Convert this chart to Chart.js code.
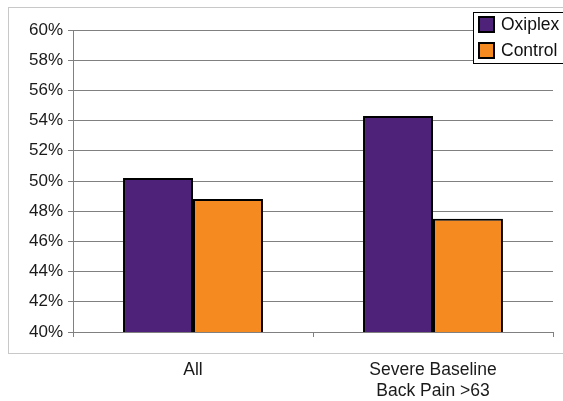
<!DOCTYPE html>
<html>
<head>
<meta charset="utf-8">
<script src="https://cdn.jsdelivr.net/npm/chart.js@4/dist/chart.umd.min.js"></script>
<style>
  html, body { margin: 0; padding: 0; background: #fff; }
  #wrap { width: 563px; height: 401px; position: relative; }
</style>
</head>
<body>
<div id="wrap"><canvas id="grafico"></canvas></div>
<script>
// datos
const categorias = ["All", ["Severe Baseline", "Back Pain >63"]];
const oxiplex = [50.2, 54.3];
const control = [48.8, 47.5];
const nombres = ["Oxiplex", "Control"];
const colores = ["#4f2279", "#f58a20"];

const fuente = "'Liberation Sans', Arial, sans-serif";

// marco gris y leyenda con caja negra, como en el original
const marcoYLeyenda = {
    id: "marcoYLeyenda",
    beforeDraw(chart) {
        const ctx = chart.ctx;
        ctx.save();
        ctx.strokeStyle = "#c8c8c8";
        ctx.lineWidth = 1;
        ctx.strokeRect(8.5, 7.5, 600, 346);
        ctx.restore();
    },
    afterDraw(chart) {
        const ctx = chart.ctx;
        ctx.save();
        ctx.fillStyle = "#fff";
        ctx.fillRect(473, 12, 100, 51);
        ctx.strokeStyle = "#000";
        ctx.lineWidth = 1;
        ctx.strokeRect(473.5, 12.5, 100, 51);
        ctx.font = "17.5px " + fuente;
        ctx.textBaseline = "middle";
        chart.data.datasets.forEach((ds, i) => {
            const y = 17 + i * 26;
            ctx.fillStyle = ds.backgroundColor;
            ctx.fillRect(479, y, 15, 15);
            ctx.strokeStyle = "#000";
            ctx.lineWidth = 2;
            ctx.strokeRect(479, y, 15, 15);
            ctx.fillStyle = "#111";
            ctx.fillText(ds.label, 501, y + 8);
        });
        ctx.restore();
    }
};

new Chart(document.getElementById("grafico"), {
    type: "bar",
    data: {
        labels: categorias,
        datasets: [
            { label: nombres[0], data: oxiplex, backgroundColor: colores[0] },
            { label: nombres[1], data: control, backgroundColor: colores[1] }
        ]
    },
    options: {
        responsive: true,
        maintainAspectRatio: false,
        animation: false,
        layout: { padding: { left: 0, right: 10, top: 30, bottom: 0 } },
        datasets: {
            bar: {
                categoryPercentage: 0.583,
                barPercentage: 1.0,
                borderColor: "#000",
                borderWidth: 2,
                borderSkipped: false
            }
        },
        plugins: {
            legend: { display: false },
            tooltip: { enabled: false }
        },
        scales: {
            x: {
                afterFit(scale) { scale.height = 69; },
                grid: {
                    offset: true,
                    drawOnChartArea: false,
                    color: "#808080",
                    tickLength: 5
                },
                border: { color: "#808080" },
                ticks: {
                    color: "#1a1a1a",
                    padding: 23,
                    font: { family: fuente, size: 17.5, lineHeight: 1.2 }
                }
            },
            y: {
                min: 40,
                max: 60,
                afterFit(scale) { scale.width = 73; },
                grid: { color: "#808080", tickLength: 5 },
                border: { color: "#808080" },
                ticks: {
                    stepSize: 2,
                    color: "#1a1a1a",
                    padding: 5,
                    font: { family: fuente, size: 17 },
                    callback: (v) => v + "%"
                }
            }
        }
    },
    plugins: [marcoYLeyenda]
});
</script>
</body>
</html>
